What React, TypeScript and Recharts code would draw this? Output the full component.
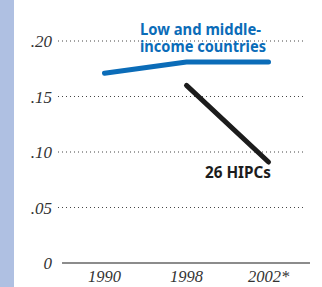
import React from "react";
import { LineChart, Line, XAxis, YAxis, ReferenceLine } from "recharts";

const categories = ["1990", "1998", "2002*"];
const lowMiddle = [0.171, 0.181, 0.181];
const hipcs: (number | null)[] = [null, 0.16, 0.091];
const yTicks = [0, 0.05, 0.1, 0.15, 0.2];
const yTickLabels = ["0", ".05", ".10", ".15", ".20"];

const data = categories.map((c, i) => ({ idx: i, cat: c, low: lowMiddle[i], hipc: hipcs[i] }));

const BLUE = "#0b6cb8";
const DARK = "#1c1c1c";

export default function App() {
  return (
    <div style={{ position: "absolute", left: 0, top: 0, width: 322, height: 287, background: "#fff" }}>
      <div style={{ position: "absolute", left: 0, top: 0, width: 14, height: 287, background: "#afc0e2" }} />
      <div style={{ position: "absolute", left: 0, top: 0 }}>
        <LineChart width={322} height={287} data={data} margin={{ top: 41, right: 2, bottom: 0, left: 0 }}>
          <XAxis
            dataKey="idx"
            type="number"
            domain={[-0.567, 2.628]}
            allowDataOverflow
            ticks={[0, 1, 2]}
            tickFormatter={(v: number) => categories[v]}
            axisLine={false}
            tickLine={false}
            height={24}
            tickSize={0}
            tickMargin={7}
            tick={{ fontFamily: "Liberation Serif", fontStyle: "italic", fontSize: 16.5, fill: "#333" }}
          />
          <YAxis
            type="number"
            domain={[0, 0.2]}
            ticks={yTicks}
            tickFormatter={(v: number) => yTickLabels[yTicks.indexOf(v)]}
            axisLine={false}
            tickLine={false}
            width={58}
            tickSize={0}
            tickMargin={6}
            tick={{ fontFamily: "Liberation Serif", fontStyle: "italic", fontSize: 17, fill: "#333" }}
          />
          {yTicks.slice(1).map((t) => (
            <ReferenceLine
              key={t}
              segment={[{ x: -0.567, y: t }, { x: 2.433, y: t }]}
              stroke="#444"
              strokeWidth={1}
              strokeDasharray="1 3"
              ifOverflow="visible"
            />
          ))}
          <ReferenceLine
            segment={[{ x: -0.518, y: 0 }, { x: 2.506, y: 0 }]}
            stroke="#666"
            strokeWidth={1.5}
            ifOverflow="visible"
          />
          <Line
            dataKey="low"
            stroke={BLUE}
            strokeWidth={5}
            strokeLinecap="round"
            strokeLinejoin="round"
            dot={false}
            type="linear"
            isAnimationActive={false}
          />
          <Line
            dataKey="hipc"
            stroke={DARK}
            strokeWidth={5}
            strokeLinecap="round"
            strokeLinejoin="round"
            dot={false}
            type="linear"
            isAnimationActive={false}
          />
        </LineChart>
      </div>
      <svg width={322} height={287} style={{ position: "absolute", left: 0, top: 0, pointerEvents: "none" }}>
        <text fill={BLUE} fontFamily="Noto Sans" fontWeight="bold" fontSize={15.5}>
          <tspan x={140} y={34.5} textLength={121} lengthAdjust="spacingAndGlyphs">Low and middle-</tspan>
          <tspan x={140} y={52} textLength={126} lengthAdjust="spacingAndGlyphs">income countries</tspan>
        </text>
        <text x={205} y={178} fill={DARK} fontFamily="Noto Sans" fontWeight="bold" fontSize={16} textLength={66} lengthAdjust="spacingAndGlyphs">
          26 HIPCs
        </text>
      </svg>
    </div>
  );
}
